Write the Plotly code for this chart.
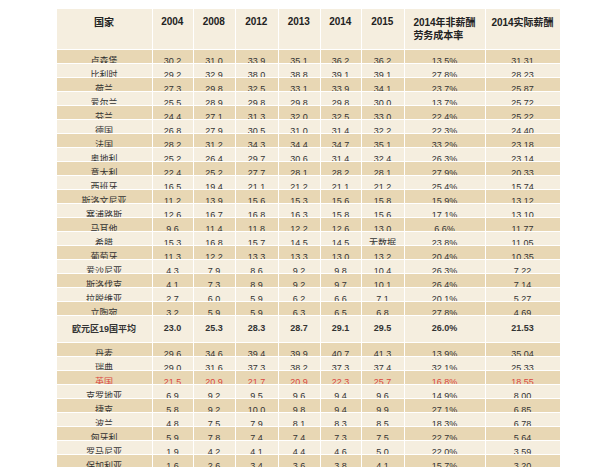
import plotly.graph_objects as go

countries = ["卢森堡", "比利时", "荷兰", "爱尔兰", "芬兰", "德国", "法国", "奥地利", "意大利",
             "西班牙", "斯洛文尼亚", "塞浦路斯", "马耳他", "希腊", "葡萄牙", "爱沙尼亚", "斯洛伐克",
             "拉脱维亚", "立陶宛", "欧元区19国平均", "丹麦", "瑞典", "英国", "克罗地亚", "捷克",
             "波兰", "匈牙利", "罗马尼亚", "保加利亚", "欧盟28国平均", "挪威(非欧盟成员)"]
y2004 = [30.2, 29.2, 27.3, 25.5, 24.4, 26.8, 28.2, 25.2, 22.4, 16.5, 11.2, 12.6, 9.6, 15.3, 11.3,
         4.3, 4.1, 2.7, 3.2, 23.0, 29.6, 29.0, 21.5, 6.9, 5.8, 4.8, 5.9, 1.9, 1.6, 19.8, 30.1]
y2008 = [31.0, 32.9, 29.8, 28.9, 27.1, 27.9, 31.2, 26.4, 25.2, 19.4, 13.9, 16.7, 11.4, 16.8, 12.2,
         7.9, 7.3, 6.0, 5.9, 25.3, 34.6, 31.6, 20.9, 9.2, 9.2, 7.5, 7.8, 4.2, 2.6, 21.5, 37.8]
y2012 = [33.9, 38.0, 32.5, 29.8, 31.3, 30.5, 34.3, 29.7, 27.7, 21.1, 15.6, 16.8, 11.8, 15.7, 13.3,
         8.6, 8.9, 5.9, 5.9, 28.3, 39.4, 37.3, 21.7, 9.5, 10.0, 7.9, 7.4, 4.1, 3.4, 23.9, 56.4]
y2013 = [35.1, 38.8, 33.1, 29.8, 32.0, 31.0, 34.4, 30.6, 28.1, 21.2, 15.3, 16.3, 12.2, 14.5, 13.3,
         9.2, 9.2, 6.2, 6.3, 28.7, 39.9, 38.2, 20.9, 9.6, 9.8, 8.1, 7.4, 4.4, 3.6, 24.2, 56.3]
y2014 = [36.2, 39.1, 33.9, 29.8, 32.5, 31.4, 34.7, 31.4, 28.2, 21.1, 15.6, 15.8, 12.6, 14.5, 13.0,
         9.8, 9.7, 6.6, 6.5, 29.1, 40.7, 37.3, 22.3, 9.4, 9.4, 8.3, 7.3, 4.6, 3.8, 24.5, 54.0]
y2015 = [36.2, 39.1, 34.1, 30.0, 33.0, 32.2, 35.1, 32.4, 28.1, 21.2, 15.8, 15.6, 13.0, None, 13.2,
         10.4, 10.1, 7.1, 6.8, 29.5, 41.3, 37.4, 25.7, 9.6, 9.9, 8.5, 7.5, 5.0, 4.1, 25.0, 51.2]
nonwage_2014 = [13.5, 27.8, 23.7, 13.7, 22.4, 22.3, 33.2, 26.3, 27.9, 25.4, 15.9, 17.1, 6.6, 23.8, 20.4,
                26.3, 26.4, 20.1, 27.8, 26.0, 13.9, 32.1, 16.8, 14.9, 27.1, 18.3, 22.7, 22.0, 15.7, 24.0, 18.1]
actual_2014 = [31.31, 28.23, 25.87, 25.72, 25.22, 24.40, 23.18, 23.14, 20.33, 15.74, 13.12, 13.10, 11.77,
               11.05, 10.35, 7.22, 7.14, 5.27, 4.69, 21.53, 35.04, 25.33, 18.55, 8.00, 6.85, 6.78, 5.64,
               3.59, 3.20, 18.62, 44.23]
headers = ["国家", "2004", "2008", "2012", "2013", "2014", "2015", "2014年非薪酬<br>劳务成本率", "2014实际薪酬"]

bold_rows = {"欧元区19国平均", "欧盟28国平均"}


def fmt(v, pat):
    return "无数据" if v is None else pat.format(v)


columns = [countries] + [[fmt(v, "{:.1f}") for v in s] for s in (y2004, y2008, y2012, y2013, y2014, y2015)]
columns += [[fmt(v, "{:.1f}%") for v in nonwage_2014], [fmt(v, "{:.2f}") for v in actual_2014]]
columns = [[f"<b>{c}</b>" if countries[i] in bold_rows else c for i, c in enumerate(col)] for col in columns]

row_fill = ["#e8d7b4" if i % 2 == 0 else "#f5eedf" for i in range(len(countries))]
row_font = []
for c in countries:
    if c == "英国":
        row_font.append("#d9463e")
    elif c.startswith("挪威"):
        row_font.append("#4bb3d8")
    else:
        row_font.append("#333333")

fig = go.Figure(go.Table(
    columnwidth=[96, 41, 42, 43, 42, 41, 43, 81, 75],
    header=dict(values=[f"<b>{h}</b>" for h in headers], fill_color="#f5eedf",
                line=dict(color="white", width=1), align="center", height=30,
                font=dict(family="Liberation Sans, Noto Sans CJK SC", size=10, color="#222222")),
    cells=dict(values=columns, fill_color=[row_fill] * 9, line=dict(color="white", width=1),
               align="center", height=14,
               font=dict(family="Liberation Sans, Noto Sans CJK SC", size=9, color=[row_font] * 9)),
    domain=dict(x=[0.08, 0.92], y=[0, 1]),
))
fig.update_layout(width=600, height=467, margin=dict(l=0, r=0, t=0, b=0), paper_bgcolor="white")
fig.write_html("out.html")
